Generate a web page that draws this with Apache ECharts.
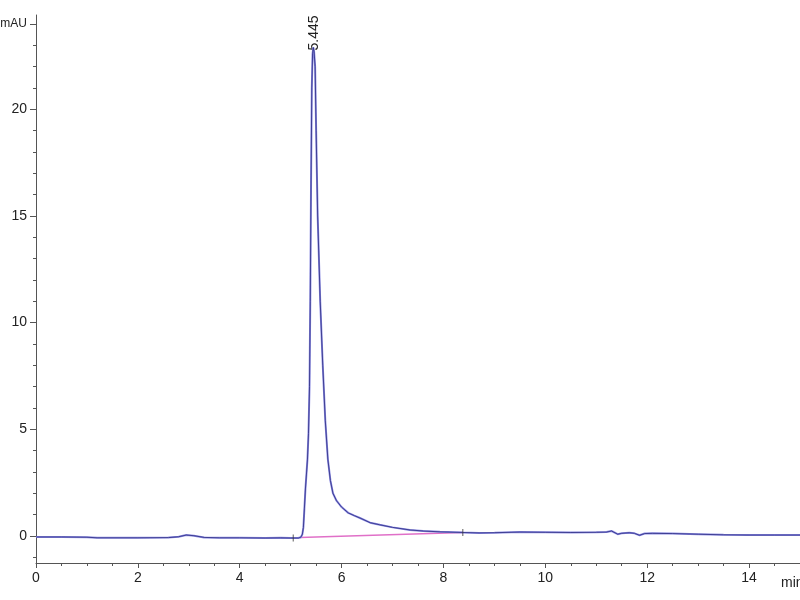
<!DOCTYPE html>
<html>
<head>
<meta charset="utf-8">
<script src="https://cdn.jsdelivr.net/npm/echarts@6/dist/echarts.min.js"></script>
<style>html,body{margin:0;padding:0;background:#fff}#c{width:800px;height:600px}</style>
</head>
<body>
<div id="c"></div>
<script>
var times = [0,0.5,1.0,1.2,2.0,2.6,2.8,2.95,3.1,3.3,3.6,4.0,4.5,4.8,5.0,5.15,5.2,5.23,5.25,5.27,5.29,5.31,5.33,5.35,5.37,5.385,5.40,5.415,5.43,5.445,5.46,5.48,5.50,5.53,5.58,5.63,5.68,5.73,5.78,5.83,5.9,6.0,6.13,6.25,6.36,6.56,6.75,7.0,7.34,7.6,7.93,8.38,8.7,9.0,9.5,10.0,10.5,11.0,11.2,11.3,11.42,11.5,11.65,11.75,11.85,11.95,12.1,12.5,13.0,13.5,14.0,14.5,15.0];
var signal = [-0.05,-0.05,-0.06,-0.09,-0.09,-0.08,-0.04,0.04,0.01,-0.07,-0.09,-0.09,-0.1,-0.09,-0.1,-0.1,-0.06,0.08,0.4,1.3,2.2,2.9,3.6,4.8,7.0,11.0,16.5,21.0,22.6,22.9,22.7,22.0,19.0,15.0,11.0,8.0,5.4,3.6,2.6,2.0,1.65,1.35,1.08,0.95,0.84,0.62,0.52,0.4,0.28,0.23,0.19,0.16,0.14,0.15,0.18,0.17,0.16,0.17,0.18,0.23,0.08,0.12,0.15,0.12,0.03,0.11,0.12,0.11,0.08,0.05,0.04,0.04,0.04];
var baselineTimes = [5.18, 8.38];
var baselineValues = [-0.07, 0.16];
var eventTimes = [5.05, 8.38];
var eventValues = [-0.1, 0.16];
var peakTime = 5.445;
var peakValue = 22.9;
var peakLabel = '5.445';
var xLabels = [0,2,4,6,8,10,12,14];
var yLabels = [0,5,10,15,20];
var yUnitTick = 24;
var yMinorTicks = [-1,1,2,3,4,6,7,8,9,11,12,13,14,16,17,18,19,21,22,23];

function pairs(a,b){return a.map(function(v,i){return [v,b[i]];});}

var chart = echarts.init(document.getElementById('c'));
var font = '"Liberation Sans", Arial, sans-serif';
var axisCol = '#555';
var yMin = -1.27, yMax = 24.42;
chart.setOption({
  animation:false,
  grid:{left:36,right:0,top:15,bottom:37,containLabel:false,outerBoundsMode:'none'},
  xAxis:{type:'value',min:0,max:15,interval:2,
    axisLine:{show:true,onZero:false,lineStyle:{color:axisCol,width:1}},
    axisTick:{show:true,length:5,lineStyle:{color:axisCol}},
    minorTick:{show:true,splitNumber:4,length:3,lineStyle:{color:axisCol}},
    splitLine:{show:false},
    axisLabel:{color:'#222',fontSize:14,fontFamily:font,margin:8,customValues:xLabels}
  },
  yAxis:[{type:'value',min:yMin,max:yMax,
    axisLine:{show:true,lineStyle:{color:axisCol,width:1}},
    axisTick:{show:true,length:6,customValues:yLabels.concat([yUnitTick]),lineStyle:{color:axisCol}},
    splitLine:{show:false},
    axisLabel:{color:'#222',fontSize:14,fontFamily:font,margin:9,
      customValues:yLabels.concat([yUnitTick]),
      formatter:function(v){return v===yUnitTick?'{u|mAU}':String(v);},
      rich:{u:{fontSize:12,fontFamily:font,color:'#222'}}}
  },{type:'value',min:yMin,max:yMax,position:'left',
    axisLine:{show:false},
    axisTick:{show:true,length:3,customValues:yMinorTicks,lineStyle:{color:axisCol}},
    splitLine:{show:false},
    axisLabel:{show:false}
  }],
  series:[
    {type:'line',data:pairs(baselineTimes,baselineValues),symbol:'none',
     lineStyle:{color:'#e070c8',width:1.5},z:2},
    {type:'line',data:pairs(times,signal),symbol:'none',
     lineStyle:{color:'#8a8ae0',width:2},z:3},
    {type:'line',data:pairs(times,signal),symbol:'none',
     lineStyle:{color:'#2c2c80',width:0.8},z:4},
    {type:'scatter',data:pairs(eventTimes,eventValues),symbol:'rect',symbolSize:[1,7],
     itemStyle:{color:'#333'},z:5}
  ]
});
var p = chart.convertToPixel({gridIndex:0},[peakTime,peakValue]);
chart.setOption({
  graphic:[
    {type:'text',x:p[0]+1,y:p[1]+3,rotation:Math.PI/2,
     style:{text:peakLabel,fill:'#222',font:'14px '+font,align:'left',verticalAlign:'middle'}},
    {type:'text',left:781,top:576,
     style:{text:'min',fill:'#222',font:'14px '+font}}
  ]
});
</script>
</body>
</html>
